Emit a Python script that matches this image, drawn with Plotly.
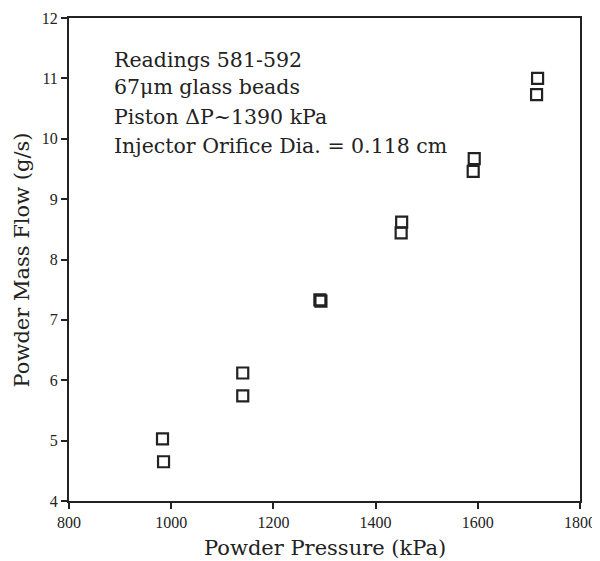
import plotly.graph_objects as go

pressure_kpa = [983, 985, 1140, 1140, 1291, 1293, 1451, 1450, 1593, 1591, 1717, 1715]
mass_flow_gs = [5.03, 4.65, 6.12, 5.74, 7.33, 7.31, 8.62, 8.44, 9.67, 9.46, 11.0, 10.73]

x_ticks = [800, 1000, 1200, 1400, 1600, 1800]
y_ticks = [4, 5, 6, 7, 8, 9, 10, 11, 12]

annotation_lines = [
    "Readings 581-592",
    "67\u03bcm glass beads",
    "Piston \u0394P~1390 kPa",
    "Injector Orifice Dia. = 0.118 cm",
]
annotation_line_y = [0.913, 0.857, 0.796, 0.736]

TEXT_FONT = "DejaVu Serif"
TICK_FONT = "Liberation Serif"
INK = "#222222"

fig = go.Figure()
fig.add_trace(go.Scatter(
    x=pressure_kpa, y=mass_flow_gs, mode="markers",
    marker=dict(symbol="square-open", size=11, color=INK, line=dict(width=2.2, color=INK)),
    showlegend=False,
))

for line, ly in zip(annotation_lines, annotation_line_y):
    fig.add_annotation(
        xref="paper", yref="paper", x=0.084, y=ly, xanchor="left", yanchor="middle",
        text=line, showarrow=False, align="left",
        font=dict(family=TEXT_FONT, size=20.5, color=INK),
    )

fig.add_annotation(
    xref="paper", yref="paper", x=0.5, y=-0.097, xanchor="center", yanchor="middle",
    text="Powder Pressure (kPa)", showarrow=False,
    font=dict(family=TEXT_FONT, size=21, color=INK),
)
fig.add_annotation(
    xref="paper", yref="paper", x=-0.092, y=0.5, xanchor="center", yanchor="middle",
    text="Powder Mass Flow (g/s)", showarrow=False, textangle=-90,
    font=dict(family=TEXT_FONT, size=21, color=INK),
)

axis_common = dict(
    showline=True, linewidth=2, linecolor=INK, mirror=True,
    ticks="outside", ticklen=6, tickwidth=2, tickcolor=INK,
    showgrid=False, zeroline=False, automargin=False,
    tickfont=dict(family=TICK_FONT, size=16, color=INK),
)

fig.update_xaxes(range=[800, 1800], tickvals=x_ticks, ticktext=[str(v) for v in x_ticks],
                 ticklabeloverflow="allow", **axis_common)
fig.update_yaxes(range=[4, 12], tickvals=y_ticks, ticktext=[str(v) for v in y_ticks], **axis_common)

fig.update_layout(
    width=592, height=553,
    margin=dict(l=61, r=20, t=10, b=60),
    paper_bgcolor="white", plot_bgcolor="white",
)

fig.write_html("out.html")
